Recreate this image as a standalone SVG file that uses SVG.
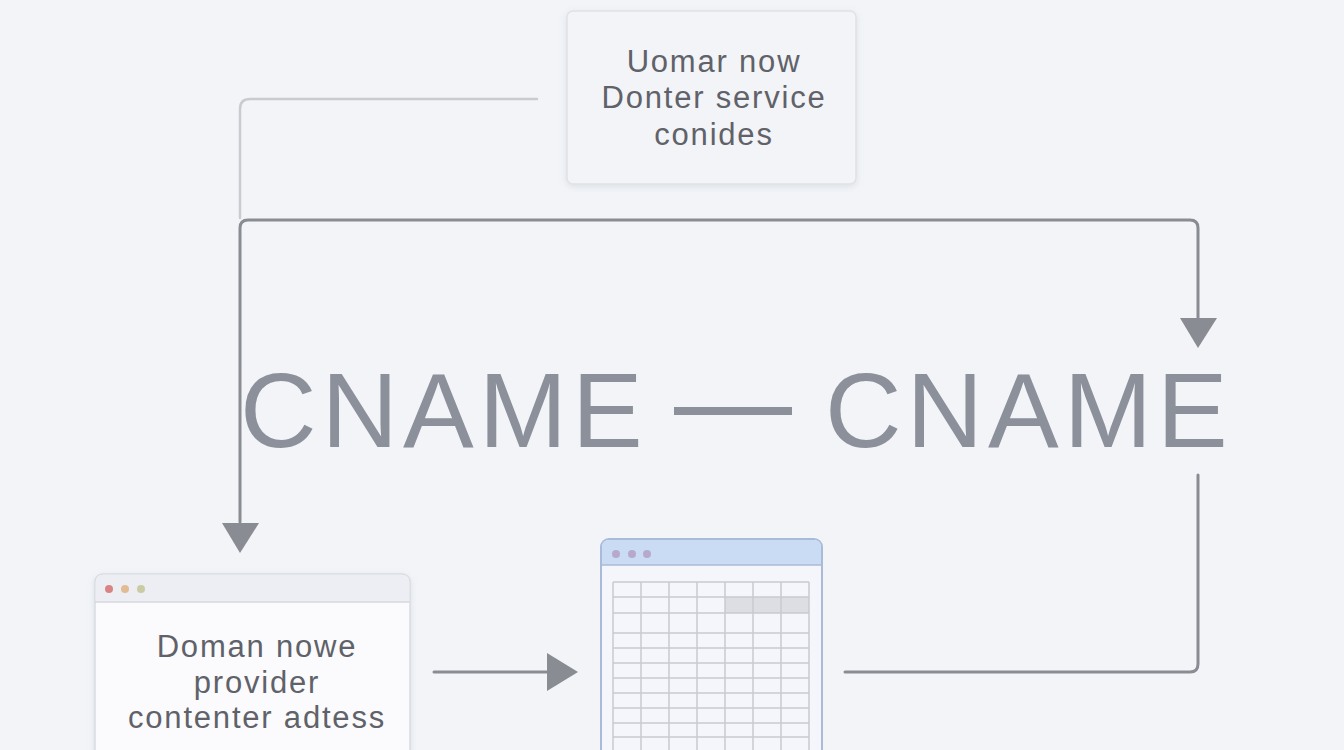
<svg xmlns="http://www.w3.org/2000/svg" width="1344" height="750" viewBox="0 0 1344 750">
<defs>
<style>
.lbl{font-family:"Liberation Sans",Arial,sans-serif;font-size:31px;fill:#5f6269;letter-spacing:1.8px;text-anchor:middle}
.big{font-family:"Liberation Sans",Arial,sans-serif;font-size:106px;fill:#8c909a;letter-spacing:5px}
.con{fill:none;stroke:#8a8c93;stroke-width:3;stroke-linecap:round;stroke-linejoin:round}
.conl{fill:none;stroke:#c9cbd0;stroke-width:2.5;stroke-linecap:round}
.grid{stroke:#c8cacf;stroke-width:1.5;fill:none}
</style>
<filter id="sh" x="-10%" y="-10%" width="120%" height="130%">
<feDropShadow dx="0" dy="2" stdDeviation="3" flood-color="#9aa0aa" flood-opacity="0.25"/>
</filter>
</defs>
<rect width="1344" height="750" fill="#f2f4f8"/>

<g id="connectors">
<path class="conl" d="M537 99 H250 Q240 99 240 109 V218"/>
<path class="con" d="M240 522 V228 Q240 220 248 220 H1190 Q1198 220 1198 228 V318"/>
<polygon points="1180,318 1217,318 1198,348" fill="#8a8c93"/>
<polygon points="222,523 259,523 240,553" fill="#8a8c93"/>
<path class="con" d="M1198 475 V664 Q1198 672 1190 672 H845"/>
<path class="con" d="M434 672 H550"/>
<polygon points="547,653 578,672 547,691" fill="#8a8c93"/>
</g>

<g id="node-top">
<rect x="567" y="11" width="289" height="173" rx="6" fill="#f3f4f7" stroke="#e0e2e6" stroke-width="1.5" filter="url(#sh)"/>
<text class="lbl" x="714" y="72">Uomar now</text>
<text class="lbl" x="714" y="108">Donter service</text>
<text class="lbl" x="714" y="145">conides</text>
</g>

<g id="cname-label">
<text class="big" y="447"><tspan x="240">CNAME</tspan><tspan x="674" dy="-6" style="font-size:118px">—</tspan><tspan x="825" dy="6">CNAME</tspan></text>
</g>

<g id="node-left">
<rect x="95" y="574" width="315" height="200" rx="8" fill="#fbfbfd" stroke="#d9dbe1" stroke-width="1.5" filter="url(#sh)"/>
<path d="M95.75 602 V582 Q95.75 574.75 103 574.75 H402 Q409.25 574.75 409.25 582 V602 Z" fill="#eceef3"/>
<line x1="95" y1="602" x2="410" y2="602" stroke="#d6d8de" stroke-width="1.5"/>
<circle cx="109" cy="589" r="4" fill="#d98484"/>
<circle cx="125" cy="589" r="4" fill="#e2bb93"/>
<circle cx="141" cy="589" r="4" fill="#c9cca3"/>
<text class="lbl" x="257" y="657">Doman nowe</text>
<text class="lbl" x="257" y="693">provider</text>
<text class="lbl" x="257" y="728">contenter adtess</text>
</g>

<g id="node-table">
<rect x="601" y="539" width="221" height="240" rx="8" fill="#f4f6fb" stroke="#a9bbd9" stroke-width="2"/>
<path d="M602 565 V547 Q602 540 609 540 H814 Q821 540 821 547 V565 Z" fill="#cadcf4"/>
<line x1="601" y1="565" x2="822" y2="565" stroke="#a9bbd9" stroke-width="1.5"/>
<circle cx="616" cy="554" r="4" fill="#b7a9cc"/>
<circle cx="632" cy="554" r="4" fill="#b7a9cc"/>
<circle cx="647" cy="554" r="4" fill="#b7a9cc"/>
<rect x="725" y="597" width="84" height="16" fill="#dcdee4"/>
<path class="grid" d="M613 582 H809 M613 597 H809 M613 613 H809 M613 633 H809 M613 648 H809 M613 663 H809 M613 678 H809 M613 693 H809 M613 708 H809 M613 723 H809 M613 737 H809
M613 582 V750 M641 582 V750 M669 582 V750 M697 582 V750 M725 582 V750 M753 582 V750 M781 582 V750 M809 582 V750"/>
</g>
</svg>
